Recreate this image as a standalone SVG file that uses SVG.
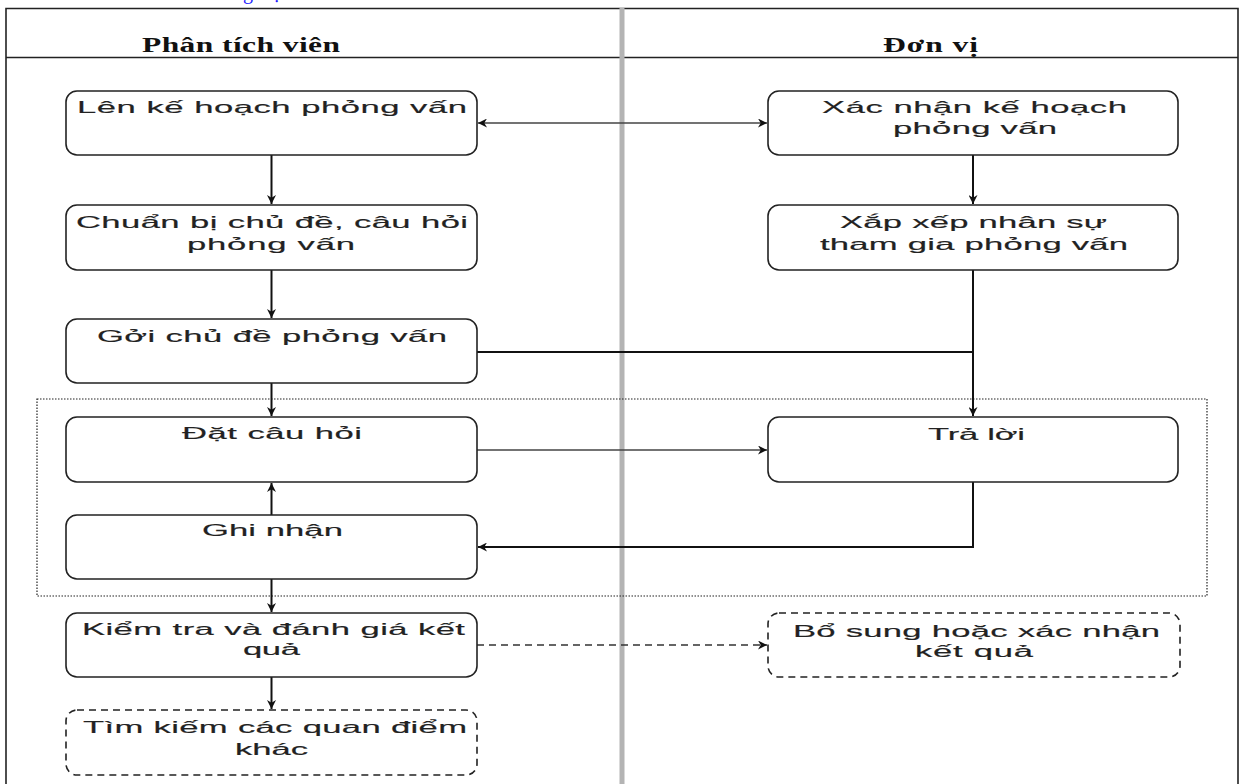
<svg xmlns="http://www.w3.org/2000/svg" width="1241" height="784" viewBox="0 0 1241 784">
  <style>
    .lane { fill: none; stroke: #222; stroke-width: 1.6; }
    .divider { stroke: #b4b4b4; stroke-width: 5; }
    .hdr { font-family: "Liberation Serif", "Times New Roman", serif; font-weight: bold; font-size: 21px; fill: #111; text-anchor: middle; }
    .box { fill: #fff; stroke: #222; stroke-width: 1.6; }
    .dash { fill: #fff; stroke: #222; stroke-width: 1.6; stroke-dasharray: 7 5; }
    .group { fill: none; stroke: #222; stroke-width: 1.2; stroke-dasharray: 1.5 1.5; }
    .lbl { font-family: "Liberation Sans", Arial, sans-serif; font-size: 16.5px; fill: #222; stroke: #222; stroke-width: 0.15; text-anchor: middle; }
    .thick { fill: none; stroke: #111; stroke-width: 2; }
    .thin { fill: none; stroke: #444; stroke-width: 1.3; }
    .thindash { fill: none; stroke: #333; stroke-width: 1.4; stroke-dasharray: 7 5; }
    .link { font-family: "Liberation Serif", "Times New Roman", serif; font-size: 20px; fill: #1a1aff; }
  </style>
  <defs>
    <marker id="arr" viewBox="0 0 10 10" refX="10" refY="5" markerWidth="9" markerHeight="9" markerUnits="userSpaceOnUse" orient="auto-start-reverse">
      <path d="M0,0 L10,5 L0,10 L3,5 Z" fill="#111"/>
    </marker>
  </defs>

  <rect width="1241" height="784" fill="#fff"/>

  <!-- caption line running off the top edge -->
  <text class="link" x="243" y="-1">g<tspan x="274">ị</tspan></text>

  <!-- swimlane frame -->
  <g id="lanes">
    <path class="lane" d="M6,790 V8.5 H1238 V790"/>
    <line class="lane" x1="6" y1="57.5" x2="1238" y2="57.5" stroke-width="1.3"/>
    <line class="divider" x1="622" y1="8" x2="622" y2="790"/>
    <text class="hdr" transform="translate(241,52) scale(1.5,1)" textLength="132" lengthAdjust="spacing">Phân tích viên</text>
    <text class="hdr" transform="translate(930.5,52) scale(1.5,1)" textLength="63.3" lengthAdjust="spacing">Đơn vị</text>
  </g>

  <!-- interview loop boundary -->
  <rect id="loop" class="group" x="37" y="399" width="1170" height="197"/>

  <!-- connectors -->
  <g id="connectors">
    <line class="thin" x1="478" y1="123" x2="767" y2="123" marker-start="url(#arr)" marker-end="url(#arr)"/>
    <line class="thick" x1="271.5" y1="155" x2="271.5" y2="204" marker-end="url(#arr)"/>
    <line class="thick" x1="271.5" y1="270" x2="271.5" y2="318" marker-end="url(#arr)"/>
    <line class="thick" x1="271.5" y1="383" x2="271.5" y2="416" marker-end="url(#arr)"/>
    <line class="thick" x1="271.5" y1="515" x2="271.5" y2="483" marker-end="url(#arr)"/>
    <line class="thick" x1="271.5" y1="579" x2="271.5" y2="612" marker-end="url(#arr)"/>
    <line class="thick" x1="271.5" y1="677" x2="271.5" y2="709" marker-end="url(#arr)"/>
    <line class="thick" x1="973" y1="155" x2="973" y2="204" marker-end="url(#arr)"/>
    <line class="thick" x1="973" y1="270" x2="973" y2="416" marker-end="url(#arr)"/>
    <line class="thick" x1="477" y1="352" x2="973" y2="352" stroke-width="1.6"/>
    <line class="thin" x1="477" y1="450" x2="767" y2="450" marker-end="url(#arr)"/>
    <path class="thick" d="M973,482 V547 H478" stroke-width="1.6" marker-end="url(#arr)"/>
    <line class="thindash" x1="477" y1="645" x2="767" y2="645" marker-end="url(#arr)"/>
  </g>

  <!-- analyst lane (labels are widened 2.1x horizontally) -->
  <g id="n-plan">
    <rect class="box" x="66" y="91" width="411" height="64" rx="11"/>
    <text class="lbl" transform="translate(272,113) scale(2.1,1)" textLength="185.7" lengthAdjust="spacing">Lên kế hoạch phỏng vấn</text>
  </g>
  <g id="n-prepare">
    <rect class="box" x="66" y="205" width="411" height="65" rx="11"/>
    <text class="lbl" transform="translate(272,228) scale(2.1,1)" textLength="186.7" lengthAdjust="spacing">Chuẩn bị chủ đề, câu hỏi</text>
    <text class="lbl" transform="translate(271,250) scale(2.1,1)" textLength="80" lengthAdjust="spacing">phỏng vấn</text>
  </g>
  <g id="n-send">
    <rect class="box" x="66" y="319" width="411" height="64" rx="11"/>
    <text class="lbl" transform="translate(272,342) scale(2.1,1)" textLength="166.7" lengthAdjust="spacing">Gởi chủ đề phỏng vấn</text>
  </g>
  <g id="n-ask">
    <rect class="box" x="66" y="417" width="411" height="65" rx="11"/>
    <text class="lbl" transform="translate(272,439) scale(2.1,1)" textLength="85.7" lengthAdjust="spacing">Đặt câu hỏi</text>
  </g>
  <g id="n-record">
    <rect class="box" x="66" y="515" width="411" height="64" rx="11"/>
    <text class="lbl" transform="translate(272.5,536) scale(2.1,1)" textLength="67.1" lengthAdjust="spacing">Ghi nhận</text>
  </g>
  <g id="n-review">
    <rect class="box" x="66" y="613" width="411" height="64" rx="11"/>
    <text class="lbl" transform="translate(273.5,635) scale(2.1,1)" textLength="182.4" lengthAdjust="spacing">Kiểm tra và đánh giá kết</text>
    <text class="lbl" transform="translate(271.5,655) scale(2.1,1)" textLength="27.1" lengthAdjust="spacing">quả</text>
  </g>
  <g id="n-other">
    <rect class="dash" x="66" y="710" width="411" height="65" rx="11"/>
    <text class="lbl" transform="translate(275,733) scale(2.1,1)" textLength="182.9" lengthAdjust="spacing">Tìm kiếm các quan điểm</text>
    <text class="lbl" transform="translate(271.5,755) scale(2.1,1)" textLength="34.8" lengthAdjust="spacing">khác</text>
  </g>

  <!-- unit lane -->
  <g id="n-confirm-plan">
    <rect class="box" x="768" y="91" width="410" height="64" rx="11"/>
    <text class="lbl" transform="translate(974.5,113) scale(2.1,1)" textLength="145.2" lengthAdjust="spacing">Xác nhận kế hoạch</text>
    <text class="lbl" transform="translate(975,134) scale(2.1,1)" textLength="78.1" lengthAdjust="spacing">phỏng vấn</text>
  </g>
  <g id="n-staff">
    <rect class="box" x="768" y="205" width="410" height="65" rx="11"/>
    <text class="lbl" transform="translate(973.5,228) scale(2.1,1)" textLength="127.1" lengthAdjust="spacing">Xắp xếp nhân sự</text>
    <text class="lbl" transform="translate(974,250) scale(2.1,1)" textLength="146.7" lengthAdjust="spacing">tham gia phỏng vấn</text>
  </g>
  <g id="n-answer">
    <rect class="box" x="768" y="417" width="410" height="65" rx="11"/>
    <text class="lbl" transform="translate(976.5,440) scale(2.1,1)" textLength="46.2" lengthAdjust="spacing">Trả lời</text>
  </g>
  <g id="n-supplement">
    <rect class="dash" x="768" y="613" width="412" height="64" rx="11"/>
    <text class="lbl" transform="translate(976.5,637) scale(2.1,1)" textLength="174.8" lengthAdjust="spacing">Bổ sung hoặc xác nhận</text>
    <text class="lbl" transform="translate(974,657) scale(2.1,1)" textLength="56.2" lengthAdjust="spacing">kết quả</text>
  </g>
</svg>
